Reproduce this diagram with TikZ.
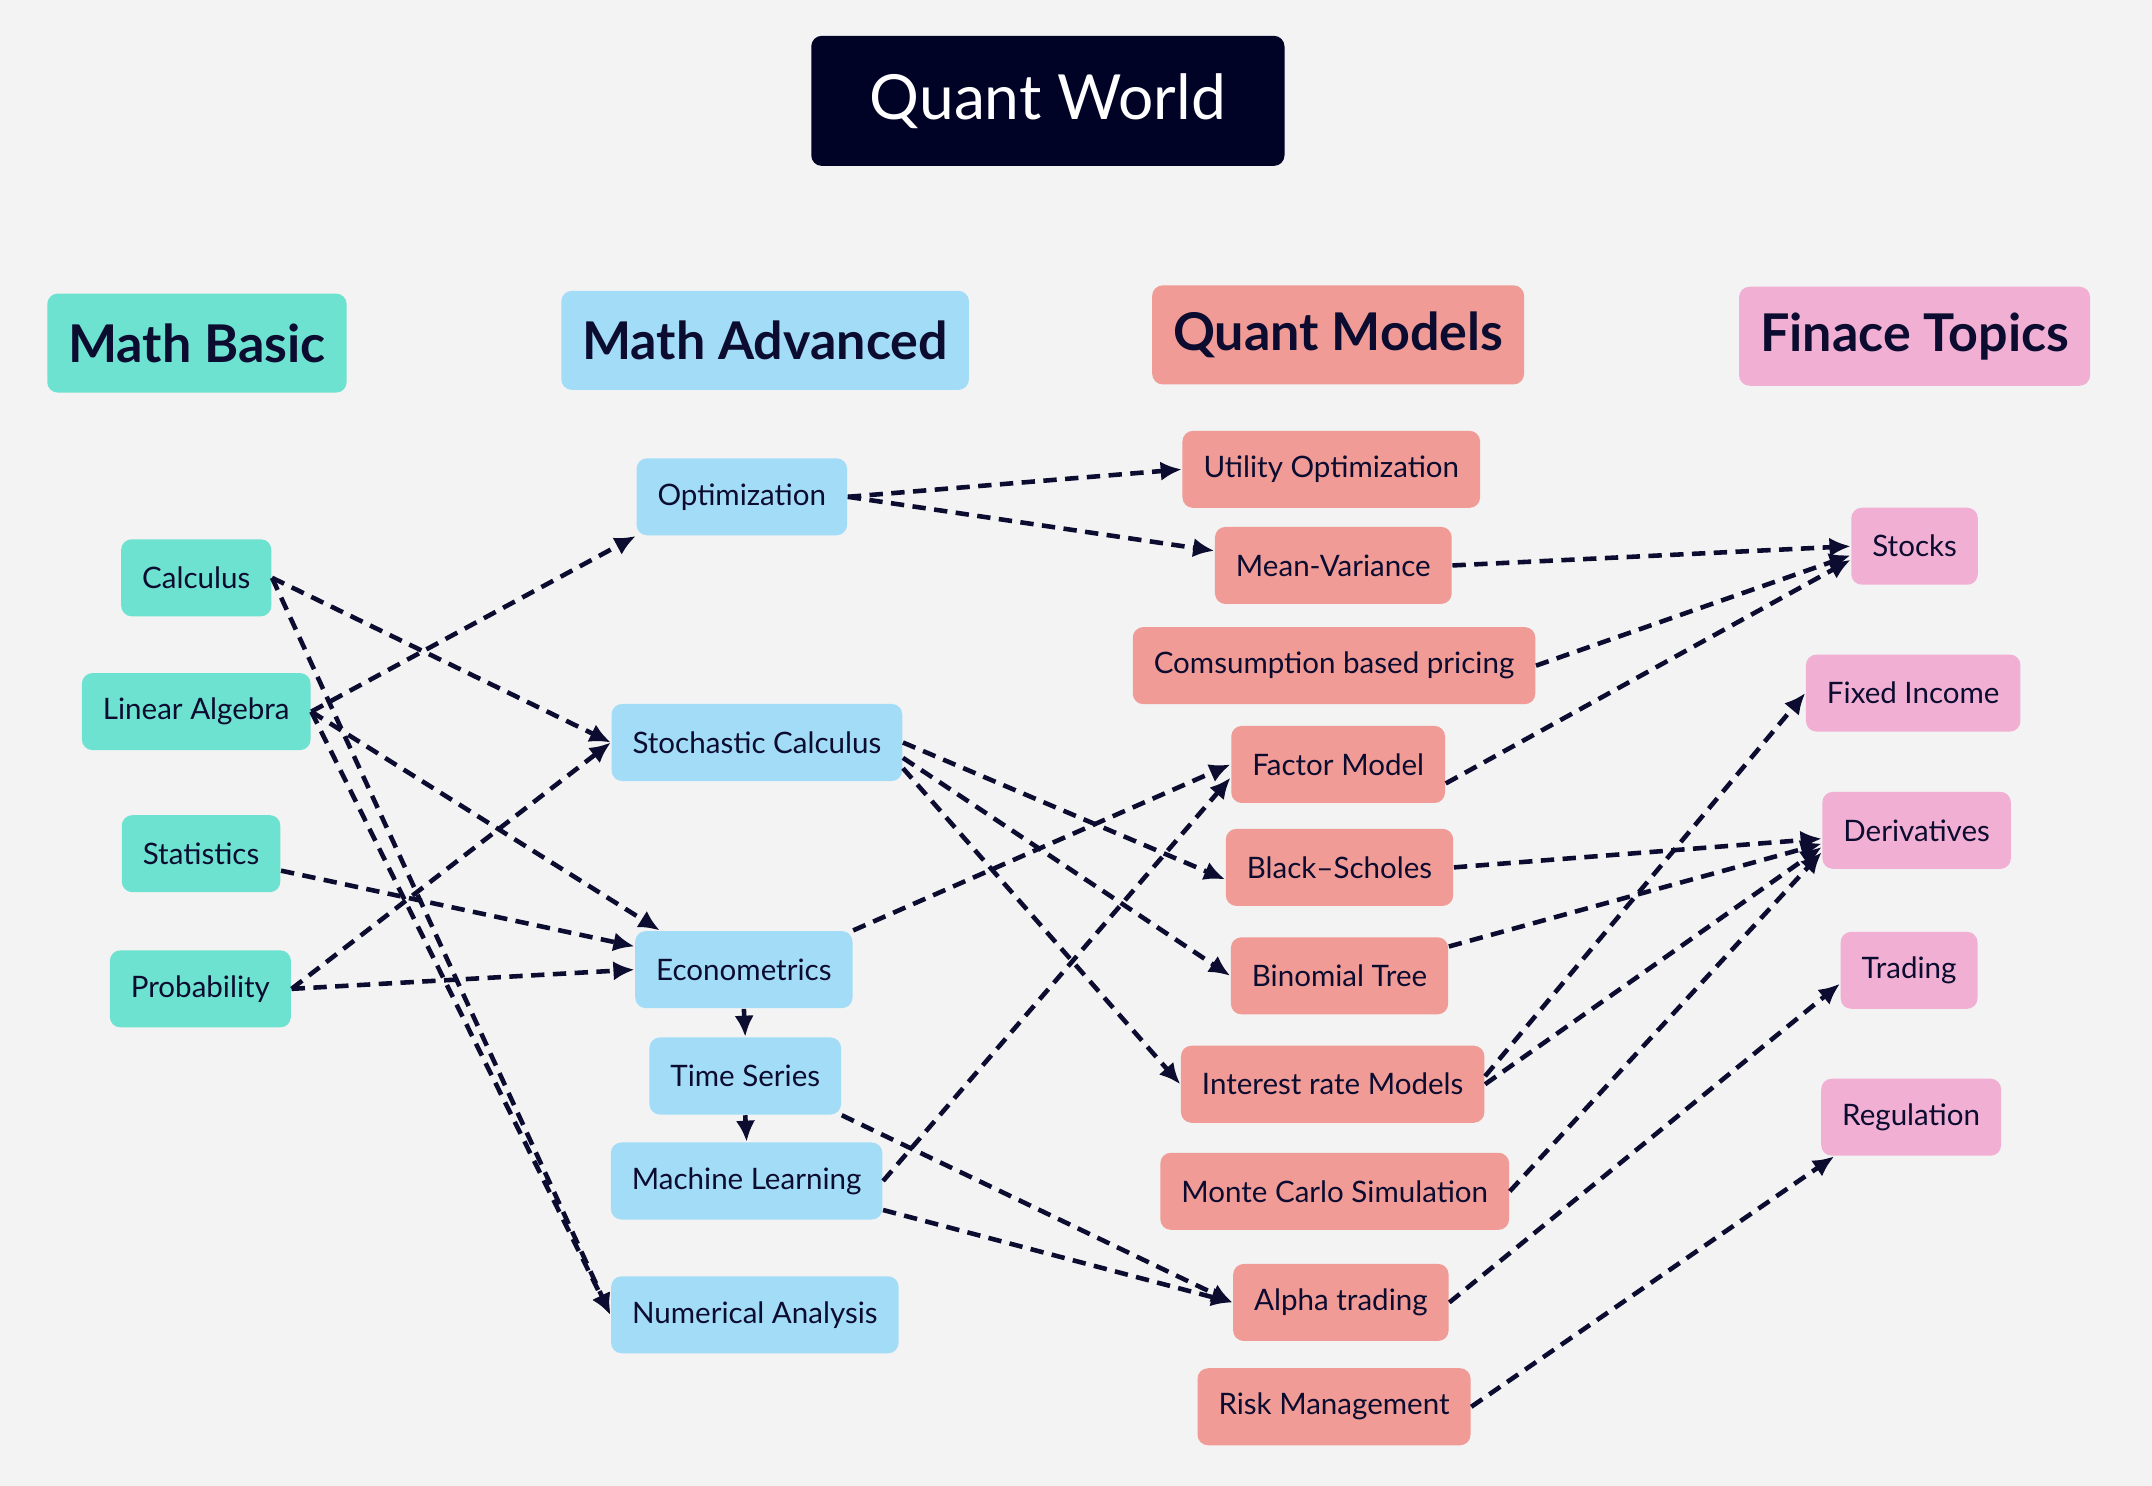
\documentclass[tikz,border=0pt]{standalone}
\usepackage{fontspec}
\setmainfont{Lato}
\usetikzlibrary{arrows.meta}

\definecolor{bgcol}{HTML}{F3F3F3}
\definecolor{navy}{HTML}{000326}
\definecolor{inkcol}{HTML}{0C0C30}
\definecolor{tealcol}{HTML}{6EE2D0}
\definecolor{skycol}{HTML}{A3DCF7}
\definecolor{salmoncol}{HTML}{F09B96}
\definecolor{pinkcol}{HTML}{F1B0D3}

\begin{document}
\begin{tikzpicture}[x=0.013724cm, y=-0.013724cm,
  box/.style={rounded corners=3pt, inner xsep=0.21cm, minimum height=0.77cm, text=inkcol, font=\fontsize{8.4}{10}\selectfont},
  basic/.style={box, fill=tealcol},
  adv/.style={box, fill=skycol},
  model/.style={box, fill=salmoncol},
  topic/.style={box, fill=pinkcol},
  head/.style={box, minimum height=0.99cm, font=\fontsize{14.8}{17}\selectfont\bfseries},
  link/.style={inkcol, line width=1.3pt, dash pattern=on 3.8pt off 2.4pt, -{Latex[length=6pt,width=5.5pt]}},
  flow/.style={inkcol, line width=1.3pt, -{Latex[length=6pt,width=5.5pt]}}]

\fill[bgcol] (0,0) rectangle (1568,1082.7);

\node[box, fill=navy, text=white, minimum width=4.73cm, minimum height=1.3cm, font=\fontsize{17.7}{20}\selectfont] (title) at (763.5,73.5) {Quant World};

\node[head, fill=tealcol] (hbasic) at (143.5,250) {Math Basic};
\node[head, fill=skycol] (hadv) at (557.5,248) {Math Advanced};
\node[head, fill=salmoncol] (hmodel) at (975,244) {Quant Models};
\node[head, fill=pinkcol] (htopic) at (1395,245) {Finace Topics};

\node[basic] (calc) at (143,421) {Calculus};
\node[basic] (linalg) at (143,518.5) {Linear Algebra};
\node[basic] (stats) at (146.5,622) {Statistics};
\node[basic] (prob) at (146,720.5) {Probability};

\node[adv] (optim) at (540.5,362) {Optimization};
\node[adv] (stoch) at (551.5,541) {Stochastic Calculus};
\node[adv] (econ) at (542,706.5) {Econometrics};
\node[adv] (tseries) at (543,784) {Time Series};
\node[adv] (mlearn) at (544,860.5) {Machine Learning};
\node[adv] (numan) at (550,958) {Numerical Analysis};

\node[model] (utilopt) at (970,342) {Utility Optimization};
\node[model] (meanvar) at (971.5,412) {Mean-Variance};
\node[model] (consum) at (972,485) {Comsumption based pricing};
\node[model] (factor) at (975,557) {Factor Model};
\node[model] (bs) at (976,632) {Black--Scholes};
\node[model] (binom) at (976,711) {Binomial Tree};
\node[model] (irate) at (971,790) {Interest rate Models};
\node[model] (mc) at (972.5,868) {Monte Carlo Simulation};
\node[model] (alpha) at (977,949) {Alpha trading};
\node[model] (risk) at (972,1025) {Risk Management};

\node[topic] (stocks) at (1395,398) {Stocks};
\node[topic] (fixinc) at (1394,505) {Fixed Income};
\node[topic] (deriv) at (1396.5,605) {Derivatives};
\node[topic] (trading) at (1391,707) {Trading};
\node[topic] (regul) at (1392.5,814) {Regulation};

\draw[link] (calc.east) -- (stoch.west);
\draw[link] (calc.east) -- (numan.west);
\draw[link] (linalg.east) -- (optim.south west);
\draw[link] (linalg.east) -- (econ.155);
\draw[link] (linalg.east) -- (numan.west);
\draw[link] (stats.-12) -- (econ.168);
\draw[link] (prob.east) -- (stoch.west);
\draw[link] (prob.east) -- (econ.west);

\draw[flow] (econ.south) -- (tseries.north);
\draw[flow] (tseries.south) -- (mlearn.north);

\draw[link] (optim.east) -- (utilopt.west);
\draw[link] (optim.east) -- (meanvar.173);
\draw[link] (stoch.east) -- (bs.186);
\draw[link] (stoch.-6) -- (binom.west);
\draw[link] (stoch.-10) -- (irate.west);
\draw[link] (econ.north east) -- (factor.west);
\draw[link] (mlearn.east) -- (factor.187);
\draw[link] (mlearn.-12) -- (alpha.west);
\draw[link] (tseries.south east) -- (alpha.west);

\draw[link] (meanvar.east) -- (stocks.west);
\draw[link] (consum.east) -- (stocks.188);
\draw[link] (factor.-10) -- (stocks.192);
\draw[link] (bs.east) -- (deriv.185);
\draw[link] (binom.15) -- (deriv.188);
\draw[link] (irate.3) -- (fixinc.west);
\draw[link] (irate.east) -- (deriv.190);
\draw[link] (mc.east) -- (deriv.193);
\draw[link] (alpha.east) -- (trading.191);
\draw[link] (risk.east) -- (regul.207);

\end{tikzpicture}
\end{document}
